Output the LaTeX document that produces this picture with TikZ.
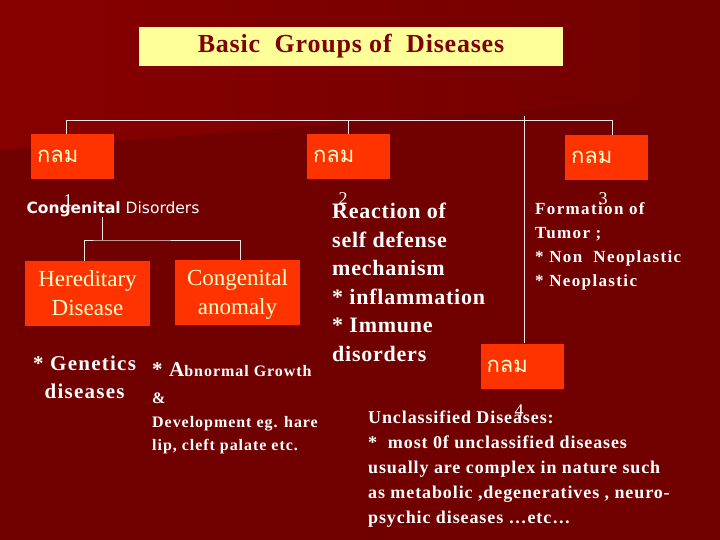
\documentclass[tikz,border=0pt]{standalone}
\usepackage{fontspec}
\setmainfont{Liberation Serif}
\newfontfamily\thaifont[Script=Thai]{Loma}
\newfontfamily\labelsans{DejaVu Sans}
\usetikzlibrary{positioning}
\definecolor{bgdark}{HTML}{710000}
\definecolor{bglight}{HTML}{880000}
\definecolor{grpbox}{HTML}{FF3300}
\definecolor{titlebg}{HTML}{FFFF99}
\definecolor{titletext}{HTML}{800000}
\definecolor{cream}{HTML}{FFFFCC}
\newcommand{\bodyfont}[3]{\bfseries\addfontfeatures{LetterSpace=#3}\fontsize{#1}{#2}\selectfont}

\begin{document}
\begin{tikzpicture}[x=1pt,y=-1pt,
  grp/.style={fill=grpbox,text=cream,font=\thaifont\fontsize{22}{22}\selectfont,
    minimum height=45pt,text width=71pt,inner xsep=6pt,inner ysep=0pt,align=left},
  subbox/.style={fill=grpbox,text=cream,font=\fontsize{23}{29}\selectfont,
    minimum width=125pt,minimum height=65pt,inner sep=0pt,align=center},
  body/.style={text=white,anchor=north west,inner sep=0pt,align=left},
  idx/.style={text=white,inner sep=0pt,font=\fontsize{18}{18}\selectfont},
  tree/.style={draw=white!90!bgdark,line width=0.8pt}]
% background
\fill[bgdark] (0,0) rectangle (720,540);
\shade[left color=bglight,right color=bgdark] (0,0) -- (720,0) -- (720,95) -- (0,150) -- cycle;
\useasboundingbox (0,0) rectangle (720,540);

% title
\node[fill=titlebg,minimum width=424pt,minimum height=39pt,inner sep=0pt,text=titletext,
  font=\bodyfont{26}{26}{3}] (title) at (351,46.5) {Basic\ \ Groups of\ \ Diseases};

% the four groups
\node[grp] (g1) at (72.5,156.5) {กลม};
\node[grp] (g2) at (348.5,156.5) {กลม};
\node[grp] (g3) at (606.5,157.5) {กลม};
\node[grp] (g4) at (522,366) {กลม};
\draw[tree] ([xshift=-6pt]g1.north) -- ++(0,-13) -| ([xshift=5.5pt]g3.north);
\draw[tree] (g2.north) -- ++(0,-13);
\draw[tree] ([xshift=2pt]g4.north) -- ++(0,-227);

% group 1
\node[text=white,inner sep=0pt,font=\labelsans\fontsize{15.5}{16}\selectfont] (cd) at (113,209)
  {\textbf{Congenital} Disorders};
\node[subbox] (her) at (87.5,293.5) {Hereditary\\Disease};
\node[subbox] (con) at (237.5,292.5) {Congenital\\\smash{anomaly}};
\coordinate (split) at (102,240);
\draw[tree] (split) -- (split |- cd.south);
\draw[tree] ([xshift=-3.5pt]her.north) |- (split) -| ([xshift=2.5pt]con.north);
\node[body,align=center,font=\bodyfont{21}{28}{6}] (gen) at (33,356)
  {* Genetics\\diseases};
\node[body,font=\bodyfont{16}{23.5}{6}] (abn) at (152,362)
  {{\fontsize{21}{23}\selectfont * A}bnormal Growth\\[4pt]\&\\Development eg. hare\\lip, cleft palate etc.};

% group 2
\node[body,font=\bodyfont{22}{28.5}{3.5}] (react) at (332,203)
  {Reaction of\\self defense\\mechanism\\* inflammation\\* Immune\\disorders};

% group 3
\node[body,font=\bodyfont{17}{24}{8}] (tumor) at (535,202.5)
  {Formation of\\Tumor ;\\* Non\ \ Neoplastic\\* Neoplastic};

% group 4
\node[body,font=\bodyfont{18}{25}{5}] (uncl) at (368,410.5)
  {Unclassified Diseases:\\*\ \ most 0f unclassified diseases\\usually are complex in nature such\\as metabolic ,degeneratives , neuro-\\psychic diseases \dots etc\dots};

% index numbers
\node[idx] (n1) at (68,201) {1};
\node[idx] (n2) at (343,199) {2};
\node[idx] (n3) at (603,199) {3};
\node[idx] (n4) at (519,411) {4};
\end{tikzpicture}
\end{document}
